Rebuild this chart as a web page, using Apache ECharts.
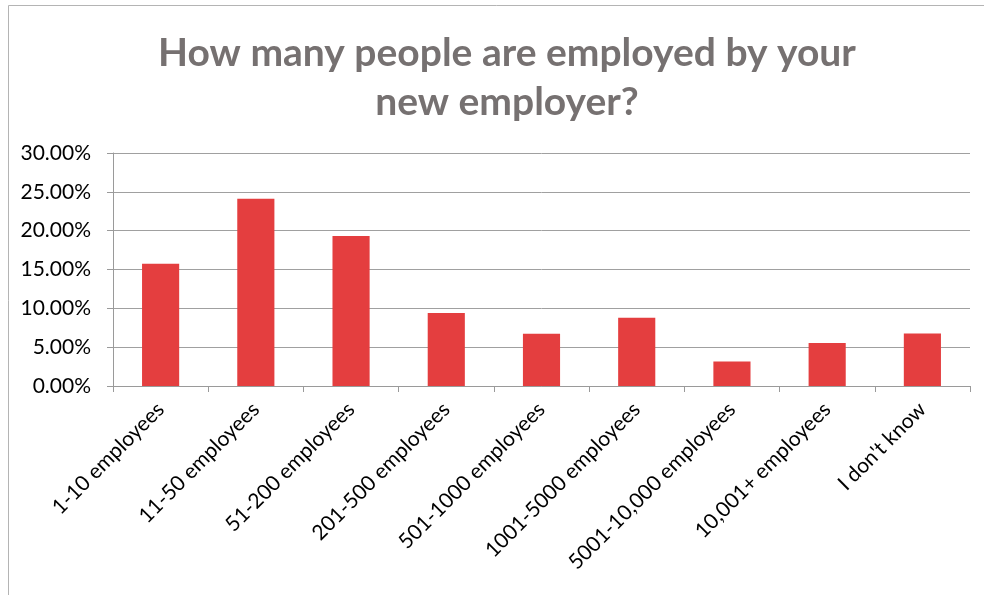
<!DOCTYPE html>
<html>
<head>
<meta charset="utf-8">
<title>Employer size</title>
<script src="https://cdn.jsdelivr.net/npm/echarts@6/dist/echarts.min.js"></script>
<style>
  html, body { margin: 0; padding: 0; background: #ffffff; }
  #chart { width: 984px; height: 595px; }
</style>
</head>
<body>
<div id="chart"></div>
<script>
// Survey answers: company size of the new employer (share of respondents, %)
const categories = [
  '1-10 employees',
  '11-50 employees',
  '51-200 employees',
  '201-500 employees',
  '501-1000 employees',
  '1001-5000 employees',
  '5001-10,000 employees',
  '10,001+ employees',
  "I don't know"
];
const shares = [15.73, 24.10, 19.30, 9.41, 6.72, 8.80, 3.14, 5.54, 6.75];

const yTicks = { min: 0, max: 30, interval: 5 };
const titleLines = ['How many people are employed by your', 'new employer?'];

const FONT = 'Lato, "Open Sans", sans-serif';
const chart = echarts.init(document.getElementById('chart'), null, { renderer: 'canvas' });

chart.setOption({
  animation: false,
  backgroundColor: '#ffffff',
  title: {
    text: titleLines.join('\n'),
    left: 502,
    top: 24,
    textAlign: 'center',
    textStyle: {
      fontFamily: FONT,
      fontSize: 39,
      fontWeight: 'bold',
      color: '#767171',
      lineHeight: 49
    }
  },
  graphic: [{
    type: 'rect',
    shape: { x: 8.5, y: 5.5, width: 1200, height: 1200 },
    style: { fill: 'none', stroke: '#b4b4b4', lineWidth: 1 },
    silent: true
  }],
  grid: { left: 113, right: 14, top: 153, bottom: 209, containLabel: false },
  xAxis: {
    type: 'category',
    data: categories,
    axisLine: { show: true, lineStyle: { color: '#9a9a9a', width: 1 } },
    axisTick: { show: true, alignWithLabel: false, length: 6, lineStyle: { color: '#9a9a9a' } },
    axisLabel: {
      interval: 0,
      rotate: 45,
      margin: 20,
      fontFamily: FONT,
      fontSize: 21,
      color: '#000000'
    },
    splitLine: { show: false }
  },
  yAxis: {
    type: 'value',
    min: yTicks.min,
    max: yTicks.max,
    interval: yTicks.interval,
    axisLine: { show: true, lineStyle: { color: '#9a9a9a', width: 1 } },
    axisTick: { show: true, length: 6, lineStyle: { color: '#9a9a9a' } },
    axisLabel: {
      margin: 22,
      fontFamily: FONT,
      fontSize: 21,
      color: '#000000',
      formatter: v => v.toFixed(2) + '%'
    },
    splitLine: { show: true, lineStyle: { color: '#a0a0a0', width: 1 } }
  },
  series: [{
    type: 'bar',
    data: shares,
    barWidth: '39%',
    itemStyle: { color: '#e43e3f' },
    emphasis: { disabled: true }
  }]
});
</script>
</body>
</html>
